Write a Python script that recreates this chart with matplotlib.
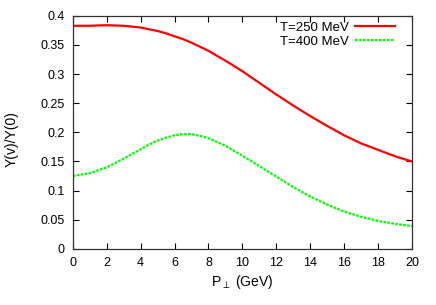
import matplotlib
matplotlib.use("Agg")
import matplotlib.pyplot as plt

plt.rcParams['font.family'] = ['Liberation Sans', 'DejaVu Sans']
plt.rcParams['mathtext.fontset'] = 'custom'
plt.rcParams['mathtext.rm'] = 'Liberation Sans'

# P_perp (GeV)
pt = [0, 1, 2, 3, 4, 4.5, 5, 5.5, 6, 6.5, 7, 7.5, 8, 9, 10, 11, 12, 13, 14, 15, 16, 17, 18, 19, 20]
# T=250 MeV
y250 = [0.383, 0.383, 0.384, 0.383, 0.380, 0.377, 0.374, 0.370, 0.365, 0.360, 0.354, 0.347, 0.340, 0.323,
        0.305, 0.285, 0.265, 0.246, 0.228, 0.211, 0.195, 0.181, 0.170, 0.159, 0.150]
# T=400 MeV
y400 = [0.125, 0.130, 0.140, 0.155, 0.171, 0.179, 0.186, 0.191, 0.195, 0.197, 0.197, 0.194, 0.190, 0.177,
        0.160, 0.142, 0.124, 0.106, 0.090, 0.076, 0.064, 0.055, 0.048, 0.043, 0.039]

fig = plt.figure(figsize=(4.36, 3.05), dpi=100)
ax = fig.add_axes([0.167, 0.184, 0.778, 0.764])

ax.plot(pt, y250, color='#ff0000', lw=1.6, label='T=250 MeV')
ax.plot(pt, y400, color='#00ff00', lw=1.6, ls=(0, (1.2, 0.6)), label='T=400 MeV')

ax.set_xlim(0, 20)
ax.set_ylim(0, 0.4)
ax.set_xticks(range(0, 21, 2))
ax.set_yticks([0, 0.05, 0.1, 0.15, 0.2, 0.25, 0.3, 0.35, 0.4])
ax.set_yticklabels(['0', '0.05', '0.1', '0.15', '0.2', '0.25', '0.3', '0.35', '0.4'])
ax.tick_params(direction='in', top=True, right=True, length=4, width=0.8, labelsize=9, pad=6)
for s in ax.spines.values():
    s.set_linewidth(0.9)
    s.set_color('#333333')

ax.set_xlabel(r'P$_\perp$ (GeV)', fontsize=10, labelpad=3)
ax.set_ylabel('Y(v)/Y(0)', fontsize=10)
ax.yaxis.set_label_coords(-0.16, 0.47)

ax.legend(loc='upper right', frameon=False, markerfirst=False, fontsize=9.5,
          handlelength=3.0, handletextpad=0.5, borderaxespad=0.9, labelspacing=0.15,
          bbox_to_anchor=(1.0, 1.05))

fig.savefig('out.png', dpi=100)
